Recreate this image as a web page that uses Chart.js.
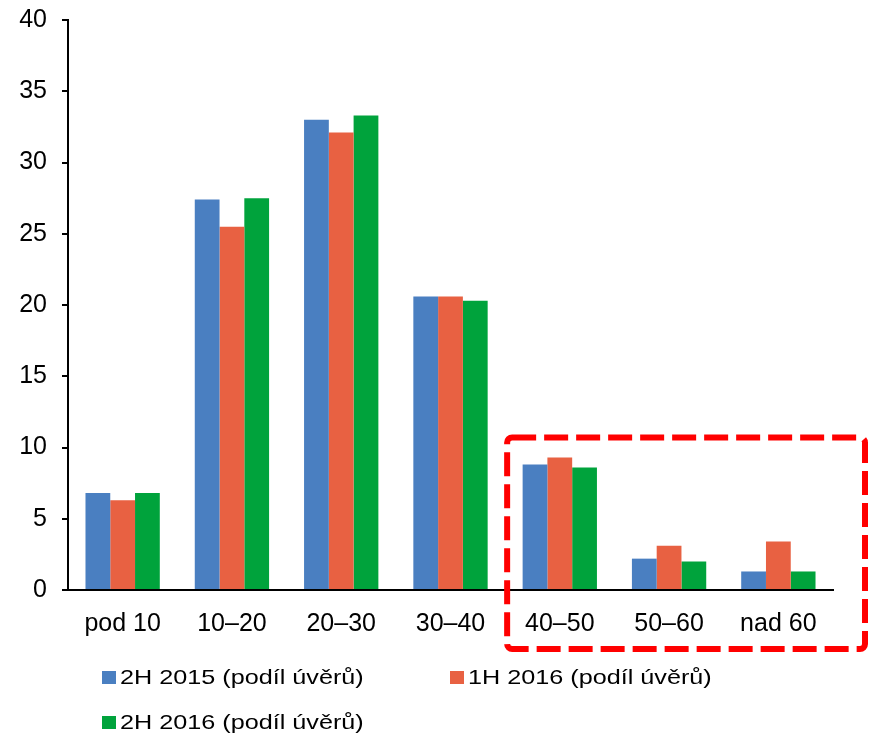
<!DOCTYPE html>
<html>
<head>
<meta charset="utf-8">
<script src="https://cdn.jsdelivr.net/npm/chart.js@4"></script>
<style>
  html, body { margin:0; padding:0; background:#fff; }
  #wrap { position:relative; width:873px; height:735px; }
  #legend { position:absolute; left:102px; top:664px; width:760px; font:21px 'Liberation Sans', Arial, sans-serif; color:#000; }
  #legend .item { position:absolute; white-space:nowrap; height:26px; line-height:26px; }
  #legend .box { position:absolute; left:0; top:7px; width:14px; height:13px; }
  #legend .txt { position:absolute; left:18px; top:0; transform:scaleX(1.2); transform-origin:left center; }
</style>
</head>
<body>
<div id="wrap">
  <canvas id="ltvChart"></canvas>
  <div id="legend"></div>
</div>
<script>
Chart.defaults.font.family = "'Liberation Sans', Arial, sans-serif";
Chart.defaults.color = '#000';

const categories = ['pod 10','10–20','20–30','30–40','40–50','50–60','nad 60'];
const h2015 = [6.8, 27.4, 33.0, 20.6, 8.8, 2.2, 1.3];
const h1_2016 = [6.3, 25.5, 32.1, 20.6, 9.3, 3.1, 3.4];
const h2016 = [6.8, 27.5, 33.3, 20.3, 8.6, 2.0, 1.3];
const seriesNames = ['2H 2015 (podíl úvěrů)','1H 2016 (podíl úvěrů)','2H 2016 (podíl úvěrů)'];
const seriesColors = ['#4a7fc1','#e86142','#00a33c'];
const yTicks = [0,5,10,15,20,25,30,35,40];

// dashed frame round the high-LTV groups
const highlight = {
  id:'highlight',
  afterDraw(chart){
    const {ctx, chartArea, scales:{x, y}} = chart;
    const left = x.getPixelForValue(3.5) + 2;
    const top = y.getPixelForValue(10.7);
    const right = chartArea.right + 32;
    const bottom = chartArea.bottom + 59;
    ctx.save();
    ctx.strokeStyle = '#ff0000';
    ctx.lineWidth = 6;
    ctx.setLineDash([24, 8]);
    ctx.beginPath();
    ctx.roundRect(left, top, right-left, bottom-top, 5);
    ctx.stroke();
    ctx.restore();
  }
};

const chart = new Chart(document.getElementById('ltvChart').getContext('2d'), {
  type:'bar',
  data:{
    labels:categories,
    datasets:[h2015, h1_2016, h2016].map((d,i)=>({
      label:seriesNames[i], data:d, backgroundColor:seriesColors[i]
    }))
  },
  options:{
    responsive:true, maintainAspectRatio:false, animation:false,
    layout:{padding:{top:20, right:40, left:0, bottom:92}},
    datasets:{bar:{barPercentage:1, categoryPercentage:0.68, borderWidth:0}},
    plugins:{tooltip:{enabled:false}, legend:{display:false}},
    scales:{
      x:{
        grid:{display:false},
        border:{display:true, color:'#000', width:2},
        ticks:{font:{size:25}, padding:11},
        afterFit:s=>{ s.height = 53; s.paddingLeft = 0; s.paddingRight = 0; }
      },
      y:{
        min:0, max:40,
        afterBuildTicks:s=>{ s.ticks = yTicks.map(v=>({value:v})); },
        grid:{drawOnChartArea:false, drawTicks:true, tickLength:6, color:'#000', lineWidth:2},
        border:{display:true, color:'#000', width:2},
        ticks:{font:{size:25}, padding:15},
        afterFit:s=>{ s.width = 68; s.paddingTop = 0; s.paddingBottom = 0; }
      }
    }
  },
  plugins:[highlight]
});

// legend: two per row, left aligned
const legendPos = [[0,0],[348,0],[0,45]];
const legendEl = document.getElementById('legend');
chart.data.datasets.forEach((ds,i)=>{
  const item = document.createElement('div');
  item.className = 'item';
  item.style.left = legendPos[i][0] + 'px';
  item.style.top = legendPos[i][1] + 'px';
  item.innerHTML = '<span class="box" style="background:' + ds.backgroundColor + '"></span><span class="txt"></span>';
  item.querySelector('.txt').textContent = ds.label;
  legendEl.appendChild(item);
});
</script>
</body>
</html>
